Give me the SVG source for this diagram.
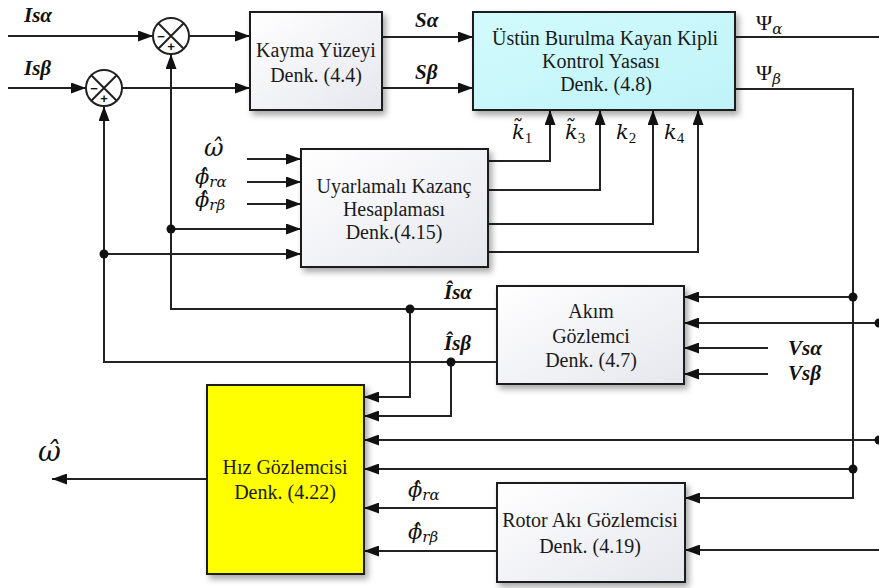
<svg xmlns="http://www.w3.org/2000/svg" width="879" height="588" viewBox="0 0 879 588">
<style>
.box{stroke:#1e1e1e;stroke-width:2;filter:url(#sh)}
.t{font-family:"Liberation Serif","Times New Roman",serif;font-size:20px;fill:#1a1a1a;text-anchor:middle}
.w{fill:none;stroke:#222;stroke-width:2}
.a{marker-end:url(#ah)}
.dot{fill:#111}
.lb{font-family:"Liberation Serif","Times New Roman",serif;font-size:21px;font-weight:bold;font-style:italic;fill:#111}
.m{font-family:"DejaVu Serif","Liberation Serif",serif;font-style:italic;font-size:21px;fill:#111}
.sub{font-size:15px}
.up{font-family:"Liberation Serif","Times New Roman",serif;font-style:normal}
.sg{font-family:"Liberation Sans",Arial,sans-serif;font-weight:bold;font-size:13px;fill:#111;text-anchor:middle}
</style>
<defs>
<marker id="ah" viewBox="0 0 15 11" refX="15" refY="5.5" markerWidth="15" markerHeight="11" markerUnits="userSpaceOnUse" orient="auto"><path d="M0,0 L15,5.5 L0,11 z" fill="#111"/></marker>
<filter id="sh" x="-10%" y="-10%" width="125%" height="130%"><feDropShadow dx="3" dy="4" stdDeviation="3" flood-color="#000" flood-opacity="0.35"/></filter>
<linearGradient id="gw" x1="0" y1="0" x2="1" y2="1"><stop offset="0" stop-color="#ffffff"/><stop offset="1" stop-color="#e6e7ee"/></linearGradient>
<linearGradient id="gc" x1="0" y1="0" x2="1" y2="1"><stop offset="0" stop-color="#d2fbfd"/><stop offset="1" stop-color="#bff3f8"/></linearGradient>
</defs>
<rect width="879" height="588" fill="#fff"/>

<g id="connectors">
<path class="w a" d="M8,36 H153"/>
<path class="w a" d="M189,36 H250"/>
<path class="w a" d="M8,88 H86"/>
<path class="w a" d="M122,88 H250"/>
<path class="w a" d="M382,37 H473"/>
<path class="w a" d="M382,88 H473"/>
<path class="w" d="M735,37 H879"/>
<path class="w a" d="M735,89 H853 V498 H685"/>
<path class="w a" d="M488,161 H550 V110"/>
<path class="w a" d="M488,190 H600 V110"/>
<path class="w a" d="M488,224 H653 V110"/>
<path class="w a" d="M488,252 H698 V110"/>
<path class="w a" d="M247,159 H301"/>
<path class="w a" d="M247,182 H301"/>
<path class="w a" d="M247,204 H301"/>
<path class="w a" d="M171,229 H301"/>
<path class="w a" d="M104,254 H301"/>
<path class="w a" d="M497,309 H171 V54"/>
<path class="w a" d="M497,362 H104 V106"/>
<path class="w a" d="M410,309 V397 H364"/>
<path class="w a" d="M451,362 V416 H364"/>
<path class="w a" d="M853,297 H684"/>
<path class="w a" d="M879,323 H684"/>
<path class="w a" d="M768,348 H684"/>
<path class="w a" d="M768,374 H684"/>
<path class="w a" d="M879,440 H364"/>
<path class="w a" d="M853,469 H364"/>
<path class="w a" d="M497,508 H364"/>
<path class="w a" d="M497,551 H364"/>
<path class="w a" d="M879,550 H685"/>
<path class="w a" d="M207,479 H52"/>
<circle class="dot" cx="171" cy="229" r="4.5"/>
<circle class="dot" cx="104" cy="254" r="4.5"/>
<circle class="dot" cx="410" cy="309" r="4.5"/>
<circle class="dot" cx="451" cy="362" r="4.5"/>
<circle class="dot" cx="853" cy="297" r="4.5"/>
<circle class="dot" cx="853" cy="469" r="4.5"/>
<circle class="dot" cx="879" cy="323" r="4.5"/>
<circle class="dot" cx="879" cy="440" r="4.5"/>
</g>

<g id="sum1">
<circle cx="171" cy="36" r="18" fill="#fff" stroke="#222" stroke-width="2"/>
<path d="M158.3,23.3 L183.7,48.7 M183.7,23.3 L158.3,48.7" stroke="#222" stroke-width="2"/>
<text class="sg" x="161" y="41">−</text>
<text class="sg" x="171" y="51">+</text>
</g>
<g id="sum2">
<circle cx="104" cy="88" r="18" fill="#fff" stroke="#222" stroke-width="2"/>
<path d="M91.3,75.3 L116.7,100.7 M116.7,75.3 L91.3,100.7" stroke="#222" stroke-width="2"/>
<text class="sg" x="94" y="93">−</text>
<text class="sg" x="104" y="103">+</text>
</g>

<g id="kayma">
<rect class="box" x="250" y="12" width="132" height="98" fill="url(#gw)"/>
<text class="t" x="316" y="57">Kayma Yüzeyi</text>
<text class="t" x="316" y="82">Denk. (4.4)</text>
</g>
<g id="ustun">
<rect class="box" x="473" y="12" width="262" height="98" fill="url(#gc)"/>
<text class="t" x="605" y="45">Üstün Burulma Kayan Kipli</text>
<text class="t" x="601" y="68">Kontrol Yasası</text>
<text class="t" x="606" y="91">Denk. (4.8)</text>
</g>
<g id="uyarlamali">
<rect class="box" x="301" y="149" width="187" height="118" fill="url(#gw)"/>
<text class="t" x="394" y="193">Uyarlamalı Kazanç</text>
<text class="t" x="394" y="216">Hesaplaması</text>
<text class="t" x="394" y="239">Denk.(4.15)</text>
</g>
<g id="akim">
<rect class="box" x="497" y="286" width="187" height="98" fill="url(#gw)"/>
<text class="t" x="591" y="318">Akım</text>
<text class="t" x="591" y="343">Gözlemci</text>
<text class="t" x="591" y="367">Denk. (4.7)</text>
</g>
<g id="hiz">
<rect class="box" x="207" y="385" width="157" height="189" fill="#ffff00"/>
<text class="t" x="285" y="474">Hız Gözlemcisi</text>
<text class="t" x="285" y="499">Denk. (4.22)</text>
</g>
<g id="rotor">
<rect class="box" x="497" y="483" width="188" height="99" fill="url(#gw)"/>
<text class="t" x="590" y="527">Rotor Akı Gözlemcisi</text>
<text class="t" x="590" y="553">Denk. (4.19)</text>
</g>

<g id="labels">
<text class="lb" x="24" y="22">Isα</text>
<text class="lb" x="24" y="75">Isβ</text>
<text class="lb" x="415" y="27">Sα</text>
<text class="lb" x="415" y="79">Sβ</text>
<text class="m up" x="756" y="30" style="font-size:22px">Ψ<tspan class="m" style="font-size:15px" dy="4">α</tspan></text>
<text class="m up" x="756" y="80" style="font-size:22px">Ψ<tspan class="m" style="font-size:15px" dy="4">β</tspan></text>
<text class="m" x="512" y="139">k̃<tspan class="sub up" dy="4">1</tspan></text>
<text class="m" x="565" y="139">k̃<tspan class="sub up" dy="4">3</tspan></text>
<text class="m" x="616" y="139">k<tspan class="sub up" dy="4">2</tspan></text>
<text class="m" x="664" y="139">k<tspan class="sub up" dy="4">4</tspan></text>
<text class="m" x="204" y="156" style="font-size:24px">ω̂</text>
<text class="m" x="195" y="184">ϕ̂<tspan class="sub" dy="3">rα</tspan></text>
<text class="m" x="195" y="207">ϕ̂<tspan class="sub" dy="3">rβ</tspan></text>
<text class="lb" x="444" y="299">Îsα</text>
<text class="lb" x="444" y="350">Îsβ</text>
<text class="lb" x="788" y="355">Vsα</text>
<text class="lb" x="788" y="380">Vsβ</text>
<text class="m" x="408" y="497">ϕ̂<tspan class="sub" dy="3">rα</tspan></text>
<text class="m" x="408" y="539">ϕ̂<tspan class="sub" dy="3">rβ</tspan></text>
<text class="m" x="38" y="461" style="font-size:28px">ω̂</text>
</g>
</svg>
